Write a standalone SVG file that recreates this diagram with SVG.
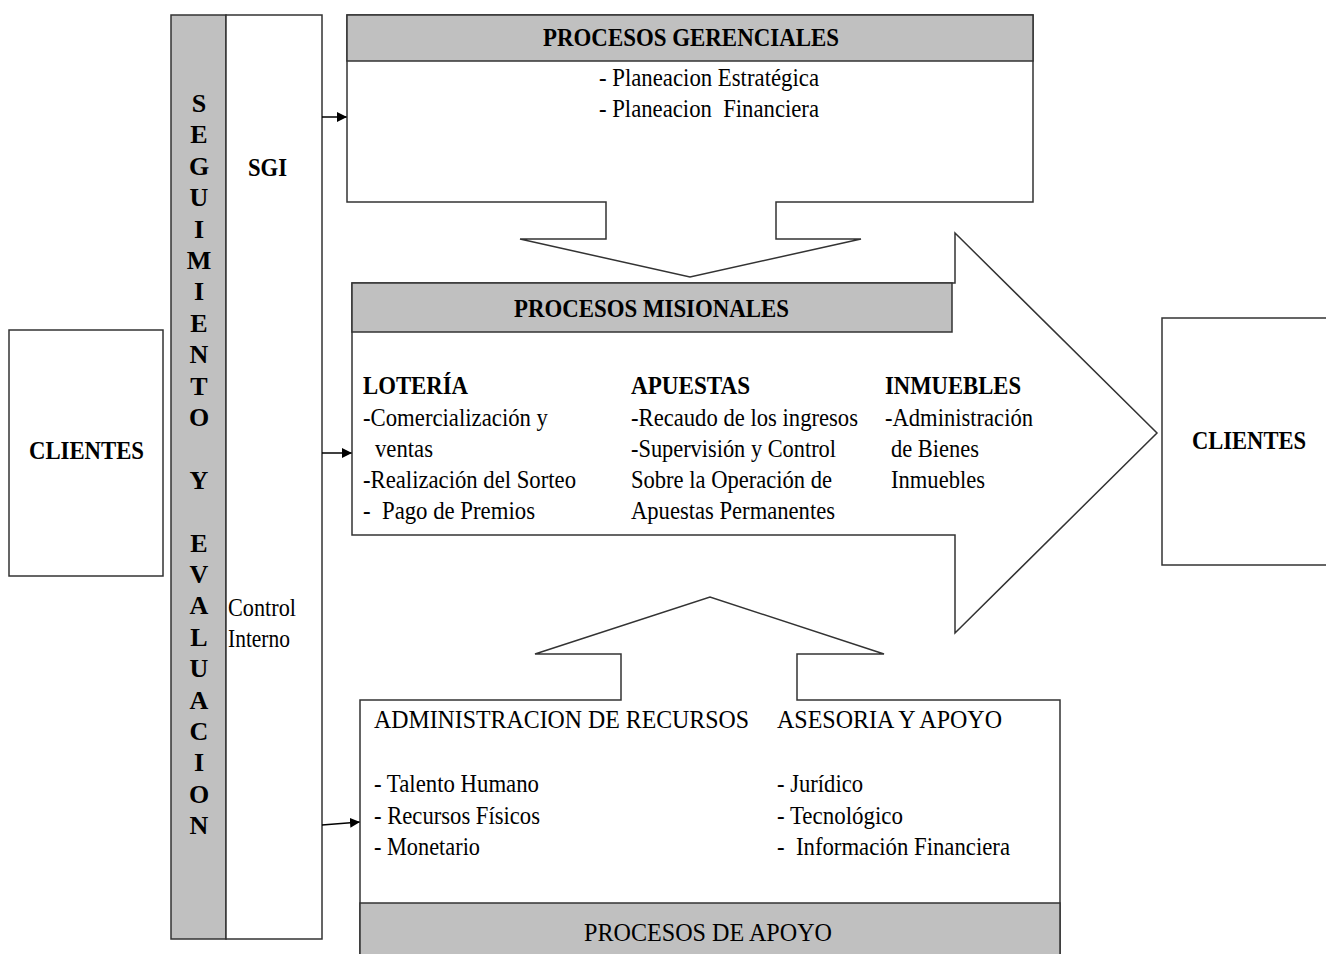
<svg xmlns="http://www.w3.org/2000/svg" width="1326" height="954" viewBox="0 0 1326 954">
<style>
.box{fill:#fff;stroke:#333;stroke-width:1.5}
.hdr{fill:#c0c0c0;stroke:#333;stroke-width:1.5}
.t{font-family:"Liberation Serif","Times New Roman",serif;font-size:25px;fill:#000;white-space:pre}
.b{font-weight:bold;font-size:26px}
.v{font-family:"Liberation Serif","Times New Roman",serif;font-size:26px;font-weight:bold;text-anchor:middle;fill:#000}
.c{fill:none;stroke:#000;stroke-width:1.5}
</style>
<defs>
<marker id="ah" viewBox="0 0 10 10" refX="10" refY="5" markerWidth="10" markerHeight="10" markerUnits="userSpaceOnUse" orient="auto">
<path d="M0,0 L10,5 L0,10 Z" fill="#000"/>
</marker>
</defs>
<rect width="1326" height="954" fill="#fff"/>

<g id="clientes-izq">
<rect class="box" x="9" y="330" width="154" height="246"/>
<text class="t b" x="29" y="459" textLength="115" lengthAdjust="spacingAndGlyphs">CLIENTES</text>
</g>

<g id="seguimiento">
<rect class="hdr" x="171" y="15" width="55" height="924"/>
<g>
<text class="v" x="199" y="112">S</text>
<text class="v" x="199" y="143.4">E</text>
<text class="v" x="199" y="174.8">G</text>
<text class="v" x="199" y="206.2">U</text>
<text class="v" x="199" y="237.6">I</text>
<text class="v" x="199" y="269">M</text>
<text class="v" x="199" y="300.4">I</text>
<text class="v" x="199" y="331.8">E</text>
<text class="v" x="199" y="363.2">N</text>
<text class="v" x="199" y="394.6">T</text>
<text class="v" x="199" y="426">O</text>
<text class="v" x="199" y="488.8">Y</text>
<text class="v" x="199" y="551.6">E</text>
<text class="v" x="199" y="583">V</text>
<text class="v" x="199" y="614.4">A</text>
<text class="v" x="199" y="645.8">L</text>
<text class="v" x="199" y="677.2">U</text>
<text class="v" x="199" y="708.6">A</text>
<text class="v" x="199" y="740">C</text>
<text class="v" x="199" y="771.4">I</text>
<text class="v" x="199" y="802.8">O</text>
<text class="v" x="199" y="834.2">N</text>
</g>
</g>

<g id="sgi">
<rect class="box" x="226" y="15" width="96" height="924"/>
<text class="t b" x="248" y="176" textLength="39" lengthAdjust="spacingAndGlyphs">SGI</text>
<text class="t" x="228" y="616" textLength="68" lengthAdjust="spacingAndGlyphs">Control</text>
<text class="t" x="228" y="647" textLength="62" lengthAdjust="spacingAndGlyphs">Interno</text>
</g>

<g id="connectors">
<line class="c" x1="322" y1="117" x2="347" y2="117" marker-end="url(#ah)"/>
<line class="c" x1="322" y1="453" x2="352" y2="453" marker-end="url(#ah)"/>
<line class="c" x1="322" y1="825" x2="360" y2="822" marker-end="url(#ah)"/>
</g>

<g id="procesos-gerenciales">
<path class="box" d="M347,15 H1033 V202 H776 V239 H861 L690,277 L520,239 H606 V202 H347 Z"/>
<rect class="hdr" x="347" y="15" width="686" height="46"/>
<text class="t b" x="543" y="46" textLength="296" lengthAdjust="spacingAndGlyphs">PROCESOS GERENCIALES</text>
<text class="t" x="599" y="86" textLength="220" lengthAdjust="spacingAndGlyphs">- Planeacion Estratégica</text>
<text class="t" x="599" y="117" textLength="220" lengthAdjust="spacingAndGlyphs">- Planeacion  Financiera</text>
</g>

<g id="procesos-misionales">
<path class="box" d="M352,283 H955 V233 L1157,433 L955,633 V535 H352 Z"/>
<rect class="hdr" x="352" y="283" width="600" height="49"/>
<text class="t b" x="514" y="317" textLength="275" lengthAdjust="spacingAndGlyphs">PROCESOS MISIONALES</text>
<text class="t b" x="363" y="394" textLength="105" lengthAdjust="spacingAndGlyphs">LOTERÍA</text>
<text class="t" x="363" y="426" textLength="185" lengthAdjust="spacingAndGlyphs">-Comercialización y</text>
<text class="t" x="375" y="457" textLength="58" lengthAdjust="spacingAndGlyphs">ventas</text>
<text class="t" x="363" y="488" textLength="213" lengthAdjust="spacingAndGlyphs">-Realización del Sorteo</text>
<text class="t" x="363" y="519" textLength="172" lengthAdjust="spacingAndGlyphs">-  Pago de Premios</text>
<text class="t b" x="631" y="394" textLength="119" lengthAdjust="spacingAndGlyphs">APUESTAS</text>
<text class="t" x="631" y="426" textLength="227" lengthAdjust="spacingAndGlyphs">-Recaudo de los ingresos</text>
<text class="t" x="631" y="457" textLength="205" lengthAdjust="spacingAndGlyphs">-Supervisión y Control</text>
<text class="t" x="631" y="488" textLength="201" lengthAdjust="spacingAndGlyphs">Sobre la Operación de</text>
<text class="t" x="631" y="519" textLength="204" lengthAdjust="spacingAndGlyphs">Apuestas Permanentes</text>
<text class="t b" x="885" y="394" textLength="136" lengthAdjust="spacingAndGlyphs">INMUEBLES</text>
<text class="t" x="885" y="426" textLength="148" lengthAdjust="spacingAndGlyphs">-Administración</text>
<text class="t" x="891" y="457" textLength="88" lengthAdjust="spacingAndGlyphs">de Bienes</text>
<text class="t" x="891" y="488" textLength="94" lengthAdjust="spacingAndGlyphs">Inmuebles</text>
</g>

<g id="clientes-der">
<rect class="box" x="1162" y="318" width="170" height="247"/>
<text class="t b" x="1192" y="449" textLength="114" lengthAdjust="spacingAndGlyphs">CLIENTES</text>
</g>

<g id="procesos-apoyo">
<path class="box" d="M360,700 H621 V654 H535 L710,597 L884,654 H797 V700 H1060 V960 H360 Z"/>
<rect class="hdr" x="360" y="903" width="700" height="60"/>
<text class="t" x="374" y="728" textLength="375" lengthAdjust="spacingAndGlyphs">ADMINISTRACION DE RECURSOS</text>
<text class="t" x="777" y="728" textLength="225" lengthAdjust="spacingAndGlyphs">ASESORIA Y APOYO</text>
<text class="t" x="374" y="792" textLength="165" lengthAdjust="spacingAndGlyphs">- Talento Humano</text>
<text class="t" x="374" y="824" textLength="166" lengthAdjust="spacingAndGlyphs">- Recursos Físicos</text>
<text class="t" x="374" y="855" textLength="106" lengthAdjust="spacingAndGlyphs">- Monetario</text>
<text class="t" x="777" y="792" textLength="86" lengthAdjust="spacingAndGlyphs">- Jurídico</text>
<text class="t" x="777" y="824" textLength="126" lengthAdjust="spacingAndGlyphs">- Tecnológico</text>
<text class="t" x="777" y="855" textLength="233" lengthAdjust="spacingAndGlyphs">-  Información Financiera</text>
<text class="t" x="584" y="941" textLength="248" lengthAdjust="spacingAndGlyphs">PROCESOS DE APOYO</text>
</g>
</svg>
